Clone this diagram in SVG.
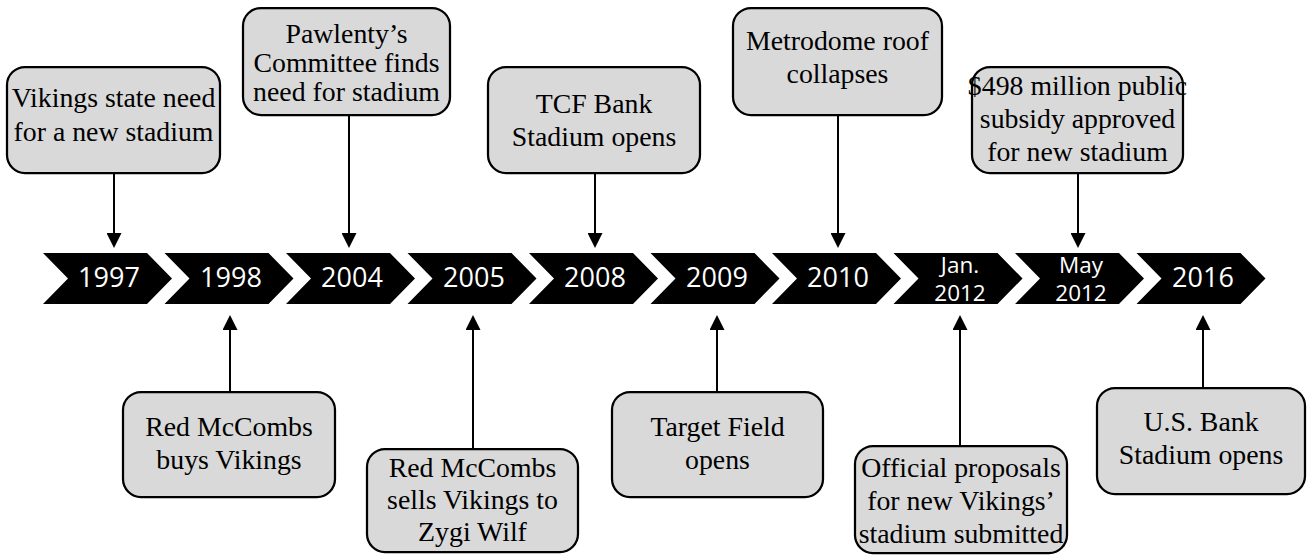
<svg xmlns="http://www.w3.org/2000/svg" width="1307" height="556" viewBox="0 0 1307 556">
<defs>
<style>
.chev{fill:#000}
.yr{font-family:"Open Sans","Liberation Sans",sans-serif;font-size:27px;fill:#fff;text-anchor:middle}
.yr2{font-family:"Open Sans","Liberation Sans",sans-serif;font-size:22.5px;fill:#fff;text-anchor:middle}
.box{fill:#d9d9d9;stroke:#000;stroke-width:2.25}
.bt{font-family:"Liberation Serif","Times New Roman",serif;font-size:27.8px;fill:#000;text-anchor:middle}
.con{stroke:#000;stroke-width:2;fill:none;marker-end:url(#ah)}
</style>
<marker id="ah" markerUnits="userSpaceOnUse" viewBox="0 0 15 15" markerWidth="15" markerHeight="15" refX="10" refY="7.5" orient="auto">
<path d="M0,0 L15,7.5 L0,15 Z" fill="#000"/>
</marker>
</defs>
<rect width="1307" height="556" fill="#fff"/>

<g id="timeline">
<path class="chev" d="M43,253 H147 L172,278.5 L147,304 H43 L68,278.5 Z"/>
<path class="chev" d="M164.5,253 H268.5 L293.5,278.5 L268.5,304 H164.5 L189.5,278.5 Z"/>
<path class="chev" d="M286,253 H390 L415,278.5 L390,304 H286 L311,278.5 Z"/>
<path class="chev" d="M407.5,253 H511.5 L536.5,278.5 L511.5,304 H407.5 L432.5,278.5 Z"/>
<path class="chev" d="M529,253 H633 L658,278.5 L633,304 H529 L554,278.5 Z"/>
<path class="chev" d="M650.5,253 H754.5 L779.5,278.5 L754.5,304 H650.5 L675.5,278.5 Z"/>
<path class="chev" d="M772,253 H876 L901,278.5 L876,304 H772 L797,278.5 Z"/>
<path class="chev" d="M893.5,253 H997.5 L1022.5,278.5 L997.5,304 H893.5 L918.5,278.5 Z"/>
<path class="chev" d="M1015,253 H1119 L1144,278.5 L1119,304 H1015 L1040,278.5 Z"/>
<path class="chev" d="M1136.5,253 H1240.5 L1265.5,278.5 L1240.5,304 H1136.5 L1161.5,278.5 Z"/>
<text class="yr" x="109" y="287">1997</text>
<text class="yr" x="231" y="287">1998</text>
<text class="yr" x="352" y="287">2004</text>
<text class="yr" x="474" y="287">2005</text>
<text class="yr" x="595" y="287">2008</text>
<text class="yr" x="717" y="287">2009</text>
<text class="yr" x="838" y="287">2010</text>
<text class="yr2" x="960" y="273">Jan.</text>
<text class="yr2" x="960" y="301">2012</text>
<text class="yr2" x="1081" y="273">May</text>
<text class="yr2" x="1081" y="301">2012</text>
<text class="yr" x="1203" y="287">2016</text>
</g>

<g id="connectors">
<line class="con" x1="114" y1="173" x2="114" y2="243"/>
<line class="con" x1="349" y1="115" x2="349" y2="243"/>
<line class="con" x1="595" y1="173" x2="595" y2="243"/>
<line class="con" x1="838" y1="115" x2="838" y2="243"/>
<line class="con" x1="1078" y1="173" x2="1078" y2="243"/>
<line class="con" x1="230" y1="392" x2="230" y2="320"/>
<line class="con" x1="473" y1="449" x2="473" y2="320"/>
<line class="con" x1="717" y1="392" x2="717" y2="320"/>
<line class="con" x1="960" y1="446" x2="960" y2="320"/>
<line class="con" x1="1203" y1="388" x2="1203" y2="320"/>
</g>

<g id="n1997">
<rect class="box" x="7" y="67" width="213" height="106" rx="18"/>
<text class="bt" x="113.5" y="107">Vikings state need</text>
<text class="bt" x="113.5" y="141">for a new stadium</text>
</g>
<g id="n2004">
<rect class="box" x="243" y="8" width="207" height="107" rx="18"/>
<text class="bt" x="346.5" y="43">Pawlenty’s</text>
<text class="bt" x="346.5" y="72">Committee finds</text>
<text class="bt" x="346.5" y="101">need for stadium</text>
</g>
<g id="n2008">
<rect class="box" x="488" y="67" width="212" height="106" rx="18"/>
<text class="bt" x="594" y="113">TCF Bank</text>
<text class="bt" x="594" y="146">Stadium opens</text>
</g>
<g id="n2010">
<rect class="box" x="733" y="8" width="209" height="107" rx="18"/>
<text class="bt" x="837.5" y="50">Metrodome roof</text>
<text class="bt" x="837.5" y="83">collapses</text>
</g>
<g id="nMay2012">
<rect class="box" x="972" y="67" width="211" height="106" rx="18"/>
<text class="bt" x="1077.5" y="95">$498 million public</text>
<text class="bt" x="1077.5" y="128">subsidy approved</text>
<text class="bt" x="1077.5" y="161">for new stadium</text>
</g>
<g id="n1998">
<rect class="box" x="123" y="392" width="212" height="105" rx="18"/>
<text class="bt" x="229" y="436">Red McCombs</text>
<text class="bt" x="229" y="469">buys Vikings</text>
</g>
<g id="n2005">
<rect class="box" x="367" y="449" width="211" height="103" rx="18"/>
<text class="bt" x="472.5" y="477">Red McCombs</text>
<text class="bt" x="472.5" y="509">sells Vikings to</text>
<text class="bt" x="472.5" y="541">Zygi Wilf</text>
</g>
<g id="n2009">
<rect class="box" x="612" y="392" width="211" height="105" rx="18"/>
<text class="bt" x="717.5" y="436">Target Field</text>
<text class="bt" x="717.5" y="469">opens</text>
</g>
<g id="nJan2012">
<rect class="box" x="855" y="446" width="212" height="107" rx="18"/>
<text class="bt" x="961" y="477">Official proposals</text>
<text class="bt" x="961" y="510">for new Vikings’</text>
<text class="bt" x="961" y="543">stadium submitted</text>
</g>
<g id="n2016">
<rect class="box" x="1097" y="388" width="208" height="106" rx="18"/>
<text class="bt" x="1201" y="431">U.S. Bank</text>
<text class="bt" x="1201" y="464">Stadium opens</text>
</g>
</svg>
